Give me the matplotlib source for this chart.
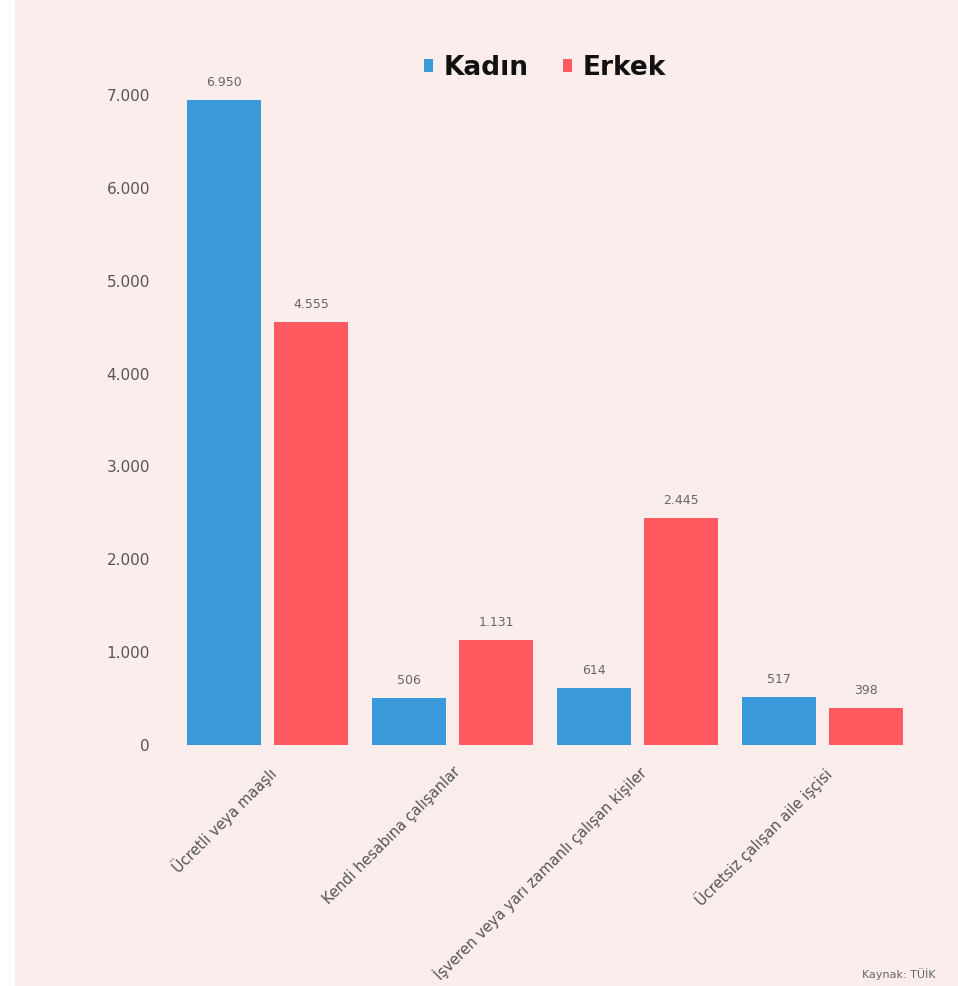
import numpy as np
import matplotlib
matplotlib.use("Agg")
import matplotlib.pyplot as plt
from matplotlib.patches import Rectangle

# data (values are estimates)
categories = ["Ücretli veya maaşlı",
              "Kendi hesabına çalışanlar",
              "İşveren veya yarı zamanlı çalışan kişiler",
              "Ücretsiz çalışan aile işçisi"]
kadin = [6950, 506, 614, 517]
erkek = [4555, 1131, 2445, 398]
yticks = [0, 1000, 2000, 3000, 4000, 5000, 6000, 7000]
series_names = ["Kadın", "Erkek"]

bg = "#fbedec"
blue = "#3a9ad9"
red = "#ff5a5f"
gray = "#666666"

fig = plt.figure(figsize=(9.58, 9.86), dpi=100, facecolor="white")
fig.patches.append(Rectangle((15 / 958, 0), 1, 1, transform=fig.transFigure,
                             facecolor=bg, edgecolor="none", zorder=-10))

ax = fig.add_axes([175 / 958, 241 / 986, 740 / 958, 650 / 986])
ax.patch.set_alpha(0)

x = np.arange(len(categories))
w = 0.405
off = 0.235
b1 = ax.bar(x - off, kadin, w, color=blue, label=series_names[0])
b2 = ax.bar(x + off, erkek, w, color=red, label=series_names[1])

fmt = lambda v: f"{v:,}".replace(",", ".")
for bars, vals in ((b1, kadin), (b2, erkek)):
    for b, v in zip(bars, vals):
        ax.text(b.get_x() + b.get_width() / 2, v + 120, fmt(v), ha="center",
                va="bottom", fontsize=9, color=gray, clip_on=False)

ax.set_xlim(-0.5, 3.5)
ax.set_ylim(0, 7000)
ax.set_yticks(yticks)
ax.set_yticklabels([fmt(v) for v in yticks], fontsize=11, color="#555555")
ax.set_xticks(x)
ax.set_xticklabels(categories, rotation=45, ha="right", rotation_mode="anchor",
                   fontsize=10.5, color="#555555")
ax.tick_params(length=0)
ax.tick_params(axis="y", pad=18)
ax.tick_params(axis="x", pad=14)
for s in ax.spines.values():
    s.set_visible(False)

leg = fig.legend(handles=[b1, b2], labels=series_names, loc="center",
                 bbox_to_anchor=(545 / 958, 1 - 68 / 986), ncol=2, frameon=False,
                 handlelength=0.35, handleheight=0.35, handletextpad=0.4,
                 columnspacing=1.3, prop={"weight": "bold", "size": 19})
for t in leg.get_texts():
    t.set_color("#111111")

fig.text(935 / 958, 6 / 986, "Kaynak: TÜİK", ha="right", va="bottom",
         fontsize=8, color=gray)

fig.savefig("out.png", dpi=100, facecolor=fig.get_facecolor())
